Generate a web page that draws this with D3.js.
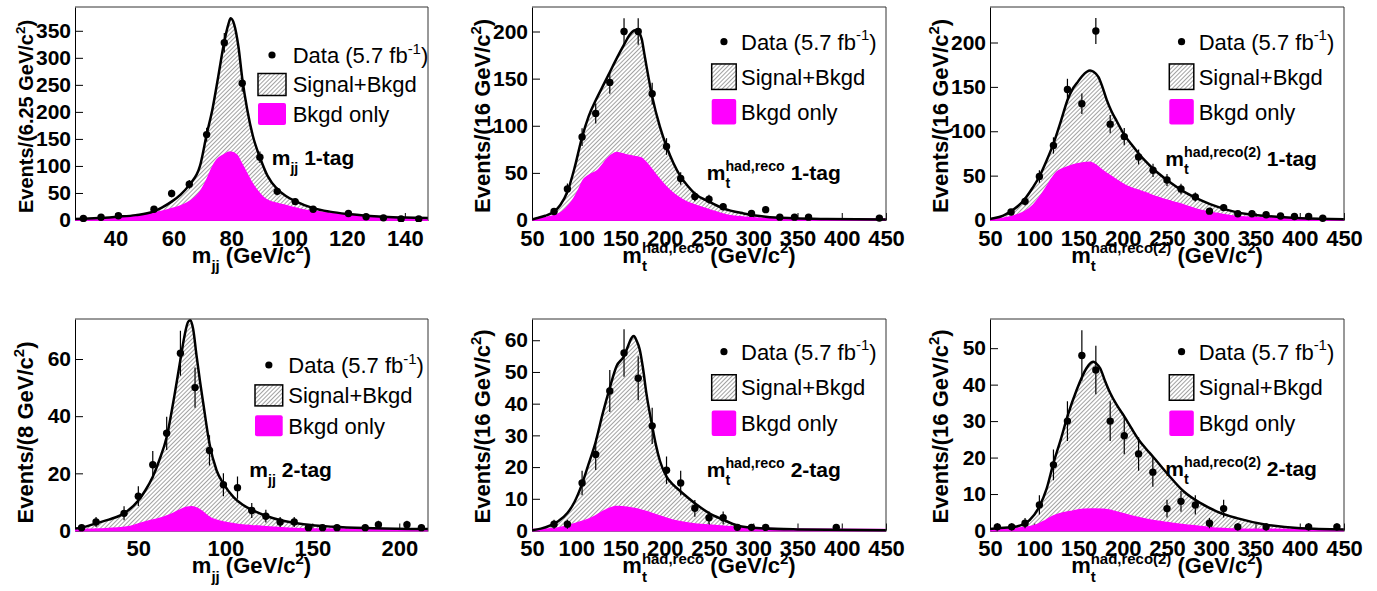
<!DOCTYPE html>
<html>
<head>
<meta charset="utf-8">
<script src="https://cdn.jsdelivr.net/npm/d3@7"></script>
<style>
  body { margin: 0; background: #fff; }
  svg { display: block; }
  text { font-family: "Liberation Sans", Arial, Helvetica, sans-serif; }
</style>
</head>
<body>
<svg id="chart" width="1377" height="591"></svg>
<script>
// ---- data: [mass, events] for data points, [mass, value] for fit curves ----

// m_jj 1-tag
var mjj1Points = [[28.9,3],[35.0,5],[41.0,8],[53.3,20],[59.4,49],[65.5,66],[71.5,158],[77.6,328],[83.8,253],
  [89.9,116],[95.9,53],[102.1,34],[108.3,20],[120.5,12],[126.6,6],[132.6,4],[138.7,2],[144.8,2]];
var mjj1Total = [[26,1.8],[34,3.5],[40.4,6],[47,9],[53,15.4],[56,23],[59.4,34],[62.5,47],[65.5,65],[69.2,100],
  [71.5,158],[73.5,205],[75.5,265],[77.6,330],[79,362],[79.8,373],[81,362],[82.5,320],[83.8,262],[85.5,205],
  [87.5,155],[89.9,116],[92.5,82],[95.9,57],[99,44],[102.1,35],[108.3,22],[114,15.5],[120.5,11],[126.6,8],
  [132.6,6],[140,4.5],[148,3.7]];
var mjj1Bkgd = [[26,0.6],[34.4,2.5],[45.9,7.4],[53,12.3],[59.9,21.6],[64.6,31],[67.5,42],[69.2,52],[71.5,74],
  [73.5,98],[75,111],[77.3,120],[79.6,126],[81.9,120],[83.5,105],[84.8,92],[86.8,72],[88.9,55],[92.3,37],
  [98.1,28],[103.8,20],[115.4,12.3],[126.9,7.4],[148,3]];

// m_t had,reco 1-tag
var mt1Points = [[74.9,9],[90,33],[106.6,88],[122,113],[137.9,146],[154,200],[170,200],[185.8,134],[202,78],
  [218,44],[234,25],[250,22],[266,14],[298,7],[314,11],[330,3],[346.6,3],[362.5,3],[442.5,2]];
var mt1Total = [[50,0.5],[55,1.8],[65,4.5],[75,9],[82,16],[90,30],[98,55],[106.6,88],[114,110],[122,127],
  [130,142],[138,157],[146,172],[154,186],[160,196],[165,201],[168,201.7],[171,199],[174,192],[177,176],
  [179.4,163],[185.8,131],[194.5,99],[202,78],[210,60],[218,46],[226,36],[234,28],[250,19.5],[266,12.4],
  [289,7],[314,3.5],[345,1.8],[383,1],[450,0.5]];
var mt1Bkgd = [[50,0.5],[60,1.5],[70,3.5],[81,7],[88,12],[96,21],[102,31],[107.7,42],[115,48],[124.7,53],
  [130,59],[134,64],[140,69],[145.5,71.5],[151,70.5],[157,69],[165,67.5],[174,65.5],[178,62],[183,56.6],
  [190,48],[202,35],[210,28],[221,21],[240,14],[255,9.5],[270,5.3],[290,3],[308,1.8],[345,0.8],[450,0.3]];

// m_t had,reco(2) 1-tag
var mt21Points = [[73.8,9],[89.6,21],[105.8,49],[121.7,84],[137.5,147],[153.8,131],[169.6,213],[185.8,108],
  [201.7,94],[217.9,71],[234.2,56],[250,45],[265.8,35],[282,26],[298,10],[314,14],[330,7],[346,7],[362,6],
  [378.3,4.5],[394,4],[410,4],[426,2]];
var mt21Total = [[50,1.2],[54,1.9],[65,5],[73.8,10],[82,16],[89.6,24],[98,36],[105.8,49],[114,67],[121.7,86],
  [130,111],[137.5,135],[143,147],[148,154],[154,162],[159.4,167],[163,168.5],[167,167],[172.6,161],[177,150],
  [182,135],[187,123],[193.4,111],[201.7,96],[210,85],[218,75],[226,66],[234,58],[250,45],[269,32],[288,22.5],
  [306.6,15],[329,8.6],[362,4.5],[401,1.9],[450,0.8]];
var mt21Bkgd = [[50,0.5],[65,2],[80,5.6],[90,10],[99,17],[107,27],[114,37.5],[120,47],[125.5,54],[133,58],
  [140.6,61],[148,63],[155.7,64.6],[163,65],[168,63],[174.5,58],[184,51],[193.4,45],[205,38],[216,34],[225,31],
  [238.7,26],[255,21],[269,17],[288,11],[306.6,7.5],[325,4.5],[344,3],[382,1.9],[450,0.8]];

// m_jj 2-tag
var mjj2Points = [[17.4,1],[25.7,3],[41.8,6],[50,12],[58.3,23],[66.3,34],[74.2,62],[82.6,50],[90.9,28],[98.9,16],
  [107,15],[115.2,7],[123.3,5],[131.5,3],[139.6,3],[147.8,1],[155.9,1],[164.2,1],[180.4,1],[188,2],[204.4,2],[212.7,1]];
var mjj2Total = [[13.6,0.7],[17.4,1],[25.7,2.5],[33,3.8],[41.8,6],[50,10.5],[54,14],[58.3,18.8],[62,24.5],
  [66.3,32.7],[70,44.6],[74.2,59.8],[76.5,68],[78.6,73],[80,73.6],[81.5,70.5],[83.5,61],[85.5,52],[87.3,44.6],
  [90.9,30.4],[95,21],[98.9,16.4],[104.7,11.7],[110,9],[116,7],[124,5],[132,3.6],[145,2.2],[162,1.3],[185,0.8],[216.5,0.5]];
var mjj2Bkgd = [[13.6,0.2],[28,0.5],[43.4,1.2],[50.6,2.4],[56,3.3],[62,4.2],[66,5],[70,6],[74,7.2],[78,8.1],
  [80.5,8.3],[83,8],[85,7.4],[88,6],[91,4.6],[95,3.6],[104.7,2.4],[115,1.7],[124,1.3],[143,0.6],[164,0.4],[216.5,0.1]];

// m_t had,reco 2-tag
var mt2Points = [[74.9,2],[90,2],[106.6,15],[122,24],[137.9,44],[154,56],[170,48],[185.8,33],[202,19],[218,15],
  [234,7],[250,4],[266,4],[282,1],[298,1],[314,1],[393.8,1]];
var mt2Total = [[50,0.1],[60,0.6],[70,1.5],[80,3],[90,5.5],[98,9],[106.6,14.7],[114,21],[122,28],[130,37],
  [137.9,45],[145.5,51.8],[154,55],[159,58.5],[162.5,60.7],[165,61.3],[168,60],[171.8,57],[175.5,51],[179.4,43],
  [185.8,33],[190,27],[194.5,22],[202,17],[210,14.3],[218,12.3],[234,8.6],[250,5.5],[266,3.4],[282,1.6],
  [308,0.7],[350,0.35],[450,0.1]];
var mt2Bkgd = [[50,0.1],[77.5,0.7],[100,2.3],[119,4.2],[130,6],[138,7],[145,7.6],[152,7.5],[164,7],[179,6],
  [190,5],[202,3.9],[215,2.9],[232,2.1],[250,1.7],[270,1.3],[308,0.7],[350,0.4],[450,0.2]];

// m_t had,reco(2) 2-tag
var mt22Points = [[58.3,1],[74.5,1],[89.6,2],[105.8,7],[121.7,18],[137.5,30],[153.8,48],[169.6,44],[185.8,30],
  [201.7,26],[217.9,21],[234,16],[250,6],[265.8,8],[282,7],[298,2],[314,6],[330,1],[362,1],[410,1],[442,1]];
var mt22Total = [[50,0.4],[58,0.6],[80,1.1],[95,2.9],[105.8,6.6],[114,11.5],[121.7,18.5],[130,25],[137.5,31.3],
  [148,38.6],[159,44.5],[164,46],[167,46.3],[170,45.8],[174.5,44.5],[180,41],[185.8,37.7],[193,34.5],
  [201.7,31.3],[210,28],[218,24.9],[226,22.5],[234,20.3],[250,15.7],[269,10.7],[288,7.5],[306.6,5.2],
  [329,3.4],[362,1.6],[401,0.6],[450,0.3]];
var mt22Bkgd = [[50,0.2],[80,0.6],[103,1.6],[113,2.8],[121.7,4],[130,4.7],[140.6,5.2],[155.7,5.8],[167,5.9],
  [178,5.8],[190,5.3],[201,4.6],[215,3.7],[231,2.9],[250,2.2],[269,1.6],[288,1.1],[306.6,0.6],[340,0.3],[450,0.1]];

// tick values
var mjj1XTicks = [40, 60, 80, 100, 120, 140];
var mjj2XTicks = [50, 100, 150, 200];
var mtXTicks = [50, 100, 150, 200, 250, 300, 350, 400, 450];
var mjj1YTicks = [0, 50, 100, 150, 200, 250, 300, 350];
var mt1YTicks = [0, 50, 100, 150, 200];
var mjj2YTicks = [0, 20, 40, 60];
var mt2YTicks = [0, 10, 20, 30, 40, 50, 60];
var mt22YTicks = [0, 10, 20, 30, 40, 50];

// text pieces (strings, {sub}, {sup})
var legendTexts = [['Data (5.7 fb', {sup: '-1'}, ')'], ['Signal+Bkgd'], ['Bkgd only']];
var mjjName = ['m', {sub: 'jj'}];
var mtName = ['m', {sub: 't', sup: 'had,reco'}];
var mt2Name = ['m', {sub: 't', sup: 'had,reco(2)'}];

// ---- panel layout ----
var panels = [
  {frame: {l: 75, r: 428, t: 7, b: 220}, xDomain: [26, 148], yMax: 394, xTicks: mjj1XTicks, yTicks: mjj1YTicks,
   points: mjj1Points, total: mjj1Total, bkgd: mjj1Bkgd, name: mjjName, tag: ' 1-tag', binw: '6.25', yTitleSize: 20,
   legend: {x: 258, y: 55, dy: 29.5, w: 28, h: 22, tx: 34.7}, label: {x: 271.7, y: 165}},
  {frame: {l: 532, r: 886, t: 7, b: 220}, xDomain: [50, 450], yMax: 226, xTicks: mtXTicks, yTicks: mt1YTicks,
   points: mt1Points, total: mt1Total, bkgd: mt1Bkgd, name: mtName, tag: ' 1-tag', binw: '16', yTitleSize: 22,
   legend: {x: 711.7, y: 41.7, dy: 35, w: 24.5, h: 25.5, tx: 29.3}, label: {x: 706.7, y: 180}},
  {frame: {l: 990, r: 1344, t: 7, b: 220}, xDomain: [50, 450], yMax: 240, xTicks: mtXTicks, yTicks: mt1YTicks,
   points: mt21Points, total: mt21Total, bkgd: mt21Bkgd, name: mt2Name, tag: ' 1-tag', binw: '16', yTitleSize: 22,
   legend: {x: 1169.3, y: 41.7, dy: 35, w: 24.5, h: 25.5, tx: 29.4}, label: {x: 1165.3, y: 165.7}},
  {frame: {l: 75, r: 428, t: 319, b: 530.5}, xDomain: [13.6, 216.5], yMax: 74, xTicks: mjj2XTicks, yTicks: mjj2YTicks,
   points: mjj2Points, total: mjj2Total, bkgd: mjj2Bkgd, name: mjjName, tag: ' 2-tag', binw: '8', yTitleSize: 22,
   legend: {x: 255, y: 365, dy: 30.4, w: 27.7, h: 21, tx: 33.3}, label: {x: 249.3, y: 476.7}},
  {frame: {l: 532, r: 886, t: 319, b: 530.5}, xDomain: [50, 450], yMax: 66.7, xTicks: mtXTicks, yTicks: mt2YTicks,
   points: mt2Points, total: mt2Total, bkgd: mt2Bkgd, name: mtName, tag: ' 2-tag', binw: '16', yTitleSize: 22,
   legend: {x: 711.7, y: 351.7, dy: 35.8, w: 24.5, h: 25.5, tx: 29.3}, label: {x: 706.7, y: 476.7}},
  {frame: {l: 990, r: 1344, t: 319, b: 530.5}, xDomain: [50, 450], yMax: 58, xTicks: mtXTicks, yTicks: mt22YTicks,
   points: mt22Points, total: mt22Total, bkgd: mt22Bkgd, name: mt2Name, tag: ' 2-tag', binw: '16', yTitleSize: 22,
   legend: {x: 1169.3, y: 351.7, dy: 35.8, w: 24.5, h: 25.5, tx: 29.4}, label: {x: 1165.3, y: 475.7}}
];

var magenta = '#ff00ff';
var svg = d3.select('#chart');

// hatch pattern for Signal+Bkgd
svg.append('defs').append('pattern')
    .attr('id', 'hatch')
    .attr('patternUnits', 'userSpaceOnUse')
    .attr('width', 3)
    .attr('height', 3)
    .attr('patternTransform', 'rotate(45)')
    .append('line')
      .attr('x1', 0.5).attr('y1', 0)
      .attr('x2', 0.5).attr('y2', 3)
      .attr('stroke', '#555')
      .attr('stroke-width', 0.55);

// measure a piece of text with a throwaway element
function measure(str, size, weight) {
    var t = svg.append('text')
        .attr('font-size', size)
        .attr('font-weight', weight)
        .style('white-space', 'pre')
        .text(str);
    var w = t.node().getComputedTextLength();
    t.remove();
    return w;
}

// one <text> made of plain, subscript and superscript pieces (tspans placed by hand)
function richText(parent, x, y, parts, size, weight, anchor) {
    var small = size * 0.68;
    var pieces = [];
    var cx = 0;
    parts.forEach(function (p) {
        if (typeof p === 'string') {
            pieces.push({s: p, x: cx, y: 0, size: size});
            cx += measure(p, size, weight);
        } else {
            var w = 0;
            if (p.sub) {
                pieces.push({s: p.sub, x: cx, y: size * 0.4, size: small});
                w = Math.max(w, measure(p.sub, small, weight));
            }
            if (p.sup) {
                pieces.push({s: p.sup, x: cx, y: -size * 0.42, size: small});
                w = Math.max(w, measure(p.sup, small, weight));
            }
            cx += w;
        }
    });
    var x0 = anchor === 'middle' ? x - cx / 2 : x;
    var t = parent.append('text')
        .attr('font-weight', weight)
        .style('white-space', 'pre');
    pieces.forEach(function (q) {
        t.append('tspan')
            .attr('x', x0 + q.x)
            .attr('y', y + q.y)
            .attr('font-size', q.size)
            .text(q.s);
    });
    return cx;
}

panels.forEach(function (p, i) {
    var f = p.frame;
    var x = d3.scaleLinear().domain(p.xDomain).range([f.l, f.r]);
    var y = d3.scaleLinear().domain([0, p.yMax]).range([f.b, f.t]);

    var clipId = 'clip' + i;
    svg.append('clipPath').attr('id', clipId)
        .append('rect')
        .attr('x', f.l).attr('y', f.t)
        .attr('width', f.r - f.l).attr('height', f.b - f.t + 2);

    // axes (ticks point inward)
    var xAxis = svg.append('g')
        .attr('transform', `translate(0,${f.b})`)
        .call(d3.axisBottom(x).tickValues(p.xTicks).tickSize(-7).tickSizeOuter(0).tickPadding(10));
    var yAxis = svg.append('g')
        .attr('transform', `translate(${f.l},0)`)
        .call(d3.axisLeft(y).tickValues(p.yTicks).tickSize(-8).tickSizeOuter(0).tickPadding(4));
    [xAxis, yAxis].forEach(function (ax) {
        ax.selectAll('path, line').attr('stroke', '#000').attr('stroke-width', 1);
        ax.selectAll('text')
            .attr('fill', '#000')
            .attr('font-size', ax === xAxis ? 22 : 21)
            .attr('font-weight', 'bold')
            .attr('font-family', '"Liberation Sans", Arial, sans-serif');
    });

    var plot = svg.append('g').attr('clip-path', `url(#${clipId})`);

    var area = d3.area()
        .x(d => x(d[0]))
        .y0(y(0))
        .y1(d => y(d[1]))
        .curve(d3.curveMonotoneX);
    var line = d3.line()
        .x(d => x(d[0]))
        .y(d => y(d[1]))
        .curve(d3.curveMonotoneX);

    // signal + background (hatched)
    plot.append('path')
        .datum(p.total)
        .attr('d', area)
        .attr('fill', 'url(#hatch)');

    // background only
    plot.append('path')
        .datum(p.bkgd)
        .attr('d', area)
        .attr('fill', magenta)
        .attr('stroke', magenta)
        .attr('stroke-width', 1.5);
    plot.append('line')
        .attr('x1', f.l).attr('x2', f.r)
        .attr('y1', f.b - 0.5).attr('y2', f.b - 0.5)
        .attr('stroke', magenta)
        .attr('stroke-width', 2.5);

    // fit curve
    plot.append('path')
        .datum(p.total)
        .attr('d', line)
        .attr('fill', 'none')
        .attr('stroke', '#000')
        .attr('stroke-width', 2.5);

    // data with poisson error bars
    plot.selectAll('line.err')
        .data(p.points)
        .join('line')
        .attr('class', 'err')
        .attr('x1', d => x(d[0])).attr('x2', d => x(d[0]))
        .attr('y1', d => y(d[1] - Math.sqrt(d[1])))
        .attr('y2', d => y(d[1] + Math.sqrt(d[1])))
        .attr('stroke', '#000')
        .attr('stroke-width', 1.2);
    plot.selectAll('circle.pt')
        .data(p.points)
        .join('circle')
        .attr('class', 'pt')
        .attr('cx', d => x(d[0]))
        .attr('cy', d => y(d[1]))
        .attr('r', 3.7)
        .attr('fill', '#000');

    // frame top/right
    svg.append('path')
        .attr('d', `M${f.l},${f.t}H${f.r}V${f.b}`)
        .attr('fill', 'none')
        .attr('stroke', '#333')
        .attr('stroke-width', 1);

    // legend
    var L = p.legend;
    svg.append('circle')
        .attr('cx', L.x + L.w / 2).attr('cy', L.y)
        .attr('r', 3.6).attr('fill', '#000');
    svg.append('rect')
        .attr('x', L.x).attr('y', L.y + L.dy - L.h / 2)
        .attr('width', L.w).attr('height', L.h)
        .attr('fill', 'url(#hatch)')
        .attr('stroke', '#000').attr('stroke-width', 1.5);
    svg.append('rect')
        .attr('x', L.x).attr('y', L.y + 2 * L.dy - L.h / 2)
        .attr('width', L.w).attr('height', L.h)
        .attr('rx', 2)
        .attr('fill', magenta);
    legendTexts.forEach(function (parts, k) {
        richText(svg, L.x + L.tx, L.y + k * L.dy + 7.8, parts, 22, 'normal', 'start');
    });

    // channel label
    richText(svg, p.label.x, p.label.y, p.name.concat([p.tag]), 21, 'bold', 'start');

    // axis titles
    richText(svg, (f.l + f.r) / 2, f.b + 42.5, p.name.concat([' (GeV/c', {sup: '2'}, ')']), 22, 'bold', 'middle');
    var yt = svg.append('g').attr('transform', `translate(${f.l - 42},${f.b - 7}) rotate(-90)`);
    richText(yt, 0, 0, ['Events/(' + p.binw + ' GeV/c', {sup: '2'}, ')'], p.yTitleSize, 'bold', 'start');
});
</script>
</body>
</html>
